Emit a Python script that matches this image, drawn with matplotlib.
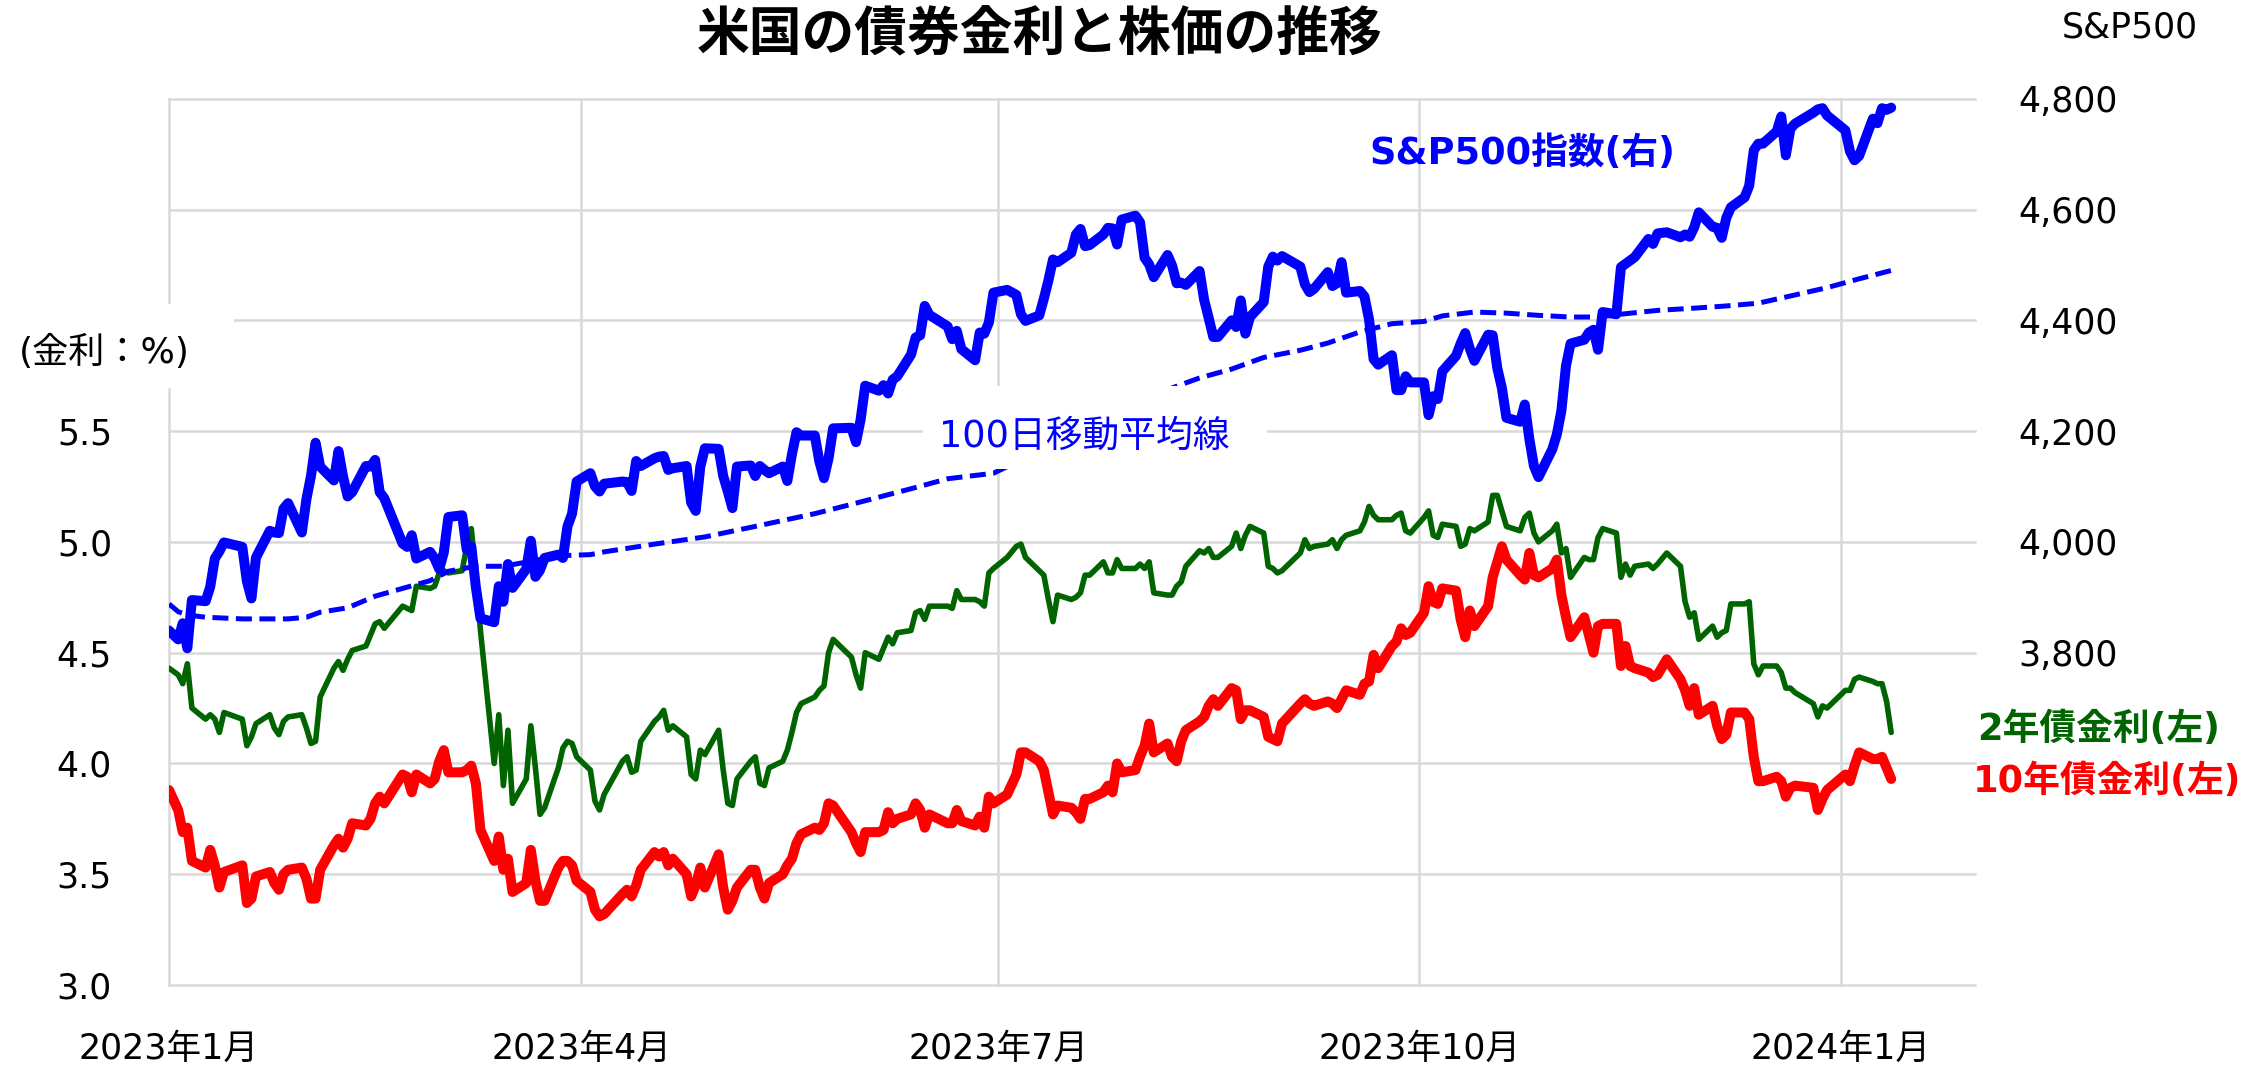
import matplotlib
matplotlib.use("Agg")
import matplotlib.pyplot as plt
import matplotlib.dates as mdates
from matplotlib.patches import Rectangle
import numpy as np
import pandas as pd

W, H, DPI = 2249, 1068, 100
plt.rcParams['font.family'] = ['DejaVu Sans', 'Noto Sans CJK JP']

# ---------------- data ----------------
dates = [
    "2023-01-01", "2023-01-03", "2023-01-04", "2023-01-05", "2023-01-06", "2023-01-09", "2023-01-10", "2023-01-11", "2023-01-12", "2023-01-13", "2023-01-17", "2023-01-18", "2023-01-19", "2023-01-20", "2023-01-23", "2023-01-24", "2023-01-25", "2023-01-26", "2023-01-27", "2023-01-30", "2023-01-31",
    "2023-02-01", "2023-02-02", "2023-02-03", "2023-02-06", "2023-02-07", "2023-02-08", "2023-02-09", "2023-02-10", "2023-02-13", "2023-02-14", "2023-02-15", "2023-02-16", "2023-02-17", "2023-02-21", "2023-02-22", "2023-02-23", "2023-02-24", "2023-02-27", "2023-02-28",
    "2023-03-01", "2023-03-02", "2023-03-03", "2023-03-06", "2023-03-07", "2023-03-08", "2023-03-09", "2023-03-10", "2023-03-13", "2023-03-14", "2023-03-15", "2023-03-16", "2023-03-17", "2023-03-20", "2023-03-21", "2023-03-22", "2023-03-23", "2023-03-24", "2023-03-27", "2023-03-28", "2023-03-29", "2023-03-30", "2023-03-31",
    "2023-04-03", "2023-04-04", "2023-04-05", "2023-04-06", "2023-04-10", "2023-04-11", "2023-04-12", "2023-04-13", "2023-04-14", "2023-04-17", "2023-04-18", "2023-04-19", "2023-04-20", "2023-04-21", "2023-04-24", "2023-04-25", "2023-04-26", "2023-04-27", "2023-04-28",
    "2023-05-01", "2023-05-02", "2023-05-03", "2023-05-04", "2023-05-05", "2023-05-08", "2023-05-09", "2023-05-10", "2023-05-11", "2023-05-12", "2023-05-15", "2023-05-16", "2023-05-17", "2023-05-18", "2023-05-19", "2023-05-22", "2023-05-23", "2023-05-24", "2023-05-25", "2023-05-26", "2023-05-30", "2023-05-31",
    "2023-06-01", "2023-06-02", "2023-06-05", "2023-06-06", "2023-06-07", "2023-06-08", "2023-06-09", "2023-06-12", "2023-06-13", "2023-06-14", "2023-06-15", "2023-06-16", "2023-06-20", "2023-06-21", "2023-06-22", "2023-06-23", "2023-06-26", "2023-06-27", "2023-06-28", "2023-06-29", "2023-06-30",
    "2023-07-03", "2023-07-05", "2023-07-06", "2023-07-07", "2023-07-10", "2023-07-11", "2023-07-12", "2023-07-13", "2023-07-14", "2023-07-17", "2023-07-18", "2023-07-19", "2023-07-20", "2023-07-21", "2023-07-24", "2023-07-25", "2023-07-26", "2023-07-27", "2023-07-28", "2023-07-31",
    "2023-08-01", "2023-08-02", "2023-08-03", "2023-08-04", "2023-08-07", "2023-08-08", "2023-08-09", "2023-08-10", "2023-08-11", "2023-08-14", "2023-08-15", "2023-08-16", "2023-08-17", "2023-08-18", "2023-08-21", "2023-08-22", "2023-08-23", "2023-08-24", "2023-08-25", "2023-08-28", "2023-08-29", "2023-08-30", "2023-08-31",
    "2023-09-01", "2023-09-05", "2023-09-06", "2023-09-07", "2023-09-08", "2023-09-11", "2023-09-12", "2023-09-13", "2023-09-14", "2023-09-15", "2023-09-18", "2023-09-19", "2023-09-20", "2023-09-21", "2023-09-22", "2023-09-25", "2023-09-26", "2023-09-27", "2023-09-28", "2023-09-29",
    "2023-10-02", "2023-10-03", "2023-10-04", "2023-10-05", "2023-10-06", "2023-10-09", "2023-10-10", "2023-10-11", "2023-10-12", "2023-10-13", "2023-10-16", "2023-10-17", "2023-10-18", "2023-10-19", "2023-10-20", "2023-10-23", "2023-10-24", "2023-10-25", "2023-10-26", "2023-10-27", "2023-10-30", "2023-10-31",
    "2023-11-01", "2023-11-02", "2023-11-03", "2023-11-06", "2023-11-07", "2023-11-08", "2023-11-09", "2023-11-10", "2023-11-13", "2023-11-14", "2023-11-15", "2023-11-16", "2023-11-17", "2023-11-20", "2023-11-21", "2023-11-22", "2023-11-24", "2023-11-27", "2023-11-28", "2023-11-29", "2023-11-30",
    "2023-12-01", "2023-12-04", "2023-12-05", "2023-12-06", "2023-12-07", "2023-12-08", "2023-12-11", "2023-12-12", "2023-12-13", "2023-12-14", "2023-12-15", "2023-12-18", "2023-12-19", "2023-12-20", "2023-12-21", "2023-12-22", "2023-12-26", "2023-12-27", "2023-12-28", "2023-12-29",
    "2024-01-02", "2024-01-03", "2024-01-04", "2024-01-05", "2024-01-08", "2024-01-09", "2024-01-10", "2024-01-11", "2024-01-12",
]

sp500 = [
    3840, 3824, 3853, 3808, 3895, 3893, 3919, 3970, 3983, 3999, 3991, 3929, 3898, 3972, 4020, 4017, 4016, 4060, 4070, 4017, 4077,
    4119, 4179, 4136, 4111, 4164, 4118, 4082, 4090, 4137, 4136, 4148, 4090, 4079, 3997, 3991, 4012, 3970, 3982, 3970,
    3951, 3981, 4045, 4048, 3986, 3992, 3918, 3862, 3855, 3920, 3892, 3960, 3917, 3951, 4002, 3937, 3949, 3971, 3977, 3971, 4028, 4051, 4109,
    4124, 4100, 4091, 4105, 4109, 4108, 4092, 4146, 4137, 4151, 4154, 4155, 4130, 4133, 4137, 4071, 4056, 4136, 4169,
    4168, 4119, 4091, 4061, 4136, 4138, 4119, 4137, 4130, 4124, 4136, 4110, 4158, 4198, 4192, 4192, 4145, 4115, 4151, 4205, 4206, 4180,
    4221, 4282, 4273, 4283, 4268, 4293, 4299, 4338, 4369, 4373, 4426, 4410, 4389, 4366, 4381, 4348, 4328, 4378, 4376, 4396, 4450,
    4455, 4446, 4411, 4399, 4409, 4439, 4472, 4510, 4505, 4522, 4555, 4565, 4534, 4536, 4555, 4567, 4566, 4537, 4582, 4589,
    4577, 4513, 4501, 4478, 4518, 4499, 4467, 4468, 4464, 4489, 4437, 4404, 4370, 4370, 4400, 4388, 4436, 4376, 4406, 4433, 4497, 4515, 4508,
    4516, 4497, 4465, 4451, 4457, 4487, 4462, 4467, 4505, 4450, 4453, 4443, 4402, 4330, 4320, 4337, 4274, 4274, 4299, 4288,
    4288, 4229, 4263, 4258, 4308, 4336, 4358, 4377, 4349, 4327, 4374, 4373, 4314, 4278, 4224, 4217, 4248, 4186, 4137, 4117, 4167, 4194,
    4237, 4318, 4358, 4365, 4378, 4383, 4347, 4415, 4411, 4496, 4502, 4508, 4514, 4547, 4538, 4557, 4559, 4550, 4555, 4551, 4568,
    4595, 4569, 4567, 4549, 4585, 4604, 4622, 4643, 4707, 4719, 4719, 4741, 4768, 4698, 4746, 4755, 4775, 4781, 4783, 4770,
    4743, 4705, 4689, 4697, 4764, 4756, 4783, 4780, 4784,
]

yield_10y = [
    3.88, 3.79, 3.69, 3.71, 3.56, 3.53, 3.61, 3.54, 3.44, 3.51, 3.54, 3.37, 3.39, 3.49, 3.51, 3.46, 3.43, 3.50, 3.52, 3.53, 3.48,
    3.39, 3.39, 3.52, 3.63, 3.66, 3.62, 3.66, 3.73, 3.72, 3.75, 3.82, 3.85, 3.82, 3.95, 3.94, 3.87, 3.95, 3.91, 3.93,
    4.01, 4.06, 3.96, 3.96, 3.97, 3.99, 3.91, 3.70, 3.56, 3.67, 3.52, 3.57, 3.42, 3.46, 3.61, 3.47, 3.38, 3.38, 3.53, 3.56, 3.56, 3.54, 3.47,
    3.42, 3.34, 3.31, 3.32, 3.41, 3.43, 3.40, 3.45, 3.52, 3.60, 3.58, 3.60, 3.54, 3.57, 3.50, 3.40, 3.45, 3.53, 3.44,
    3.59, 3.44, 3.34, 3.38, 3.44, 3.52, 3.52, 3.44, 3.39, 3.46, 3.50, 3.54, 3.57, 3.64, 3.68, 3.71, 3.70, 3.73, 3.82, 3.81, 3.69, 3.64,
    3.60, 3.69, 3.69, 3.70, 3.78, 3.73, 3.75, 3.77, 3.82, 3.79, 3.71, 3.77, 3.73, 3.73, 3.79, 3.74, 3.72, 3.76, 3.71, 3.85, 3.82,
    3.86, 3.95, 4.05, 4.05, 4.01, 3.97, 3.87, 3.77, 3.81, 3.80, 3.78, 3.75, 3.84, 3.84, 3.87, 3.90, 3.87, 4.00, 3.96, 3.97,
    4.03, 4.08, 4.18, 4.05, 4.09, 4.03, 4.01, 4.10, 4.15, 4.19, 4.21, 4.26, 4.29, 4.26, 4.34, 4.33, 4.20, 4.24, 4.24, 4.21, 4.12, 4.11, 4.10,
    4.18, 4.27, 4.29, 4.27, 4.26, 4.28, 4.27, 4.25, 4.29, 4.33, 4.31, 4.36, 4.37, 4.49, 4.43, 4.53, 4.55, 4.61, 4.58, 4.59,
    4.68, 4.80, 4.73, 4.72, 4.79, 4.78, 4.65, 4.57, 4.69, 4.62, 4.71, 4.84, 4.91, 4.98, 4.92, 4.85, 4.83, 4.95, 4.85, 4.84, 4.88, 4.92,
    4.76, 4.66, 4.57, 4.66, 4.58, 4.50, 4.62, 4.63, 4.63, 4.44, 4.53, 4.44, 4.43, 4.41, 4.39, 4.40, 4.47, 4.38, 4.33, 4.26, 4.34,
    4.22, 4.26, 4.17, 4.11, 4.13, 4.23, 4.23, 4.20, 4.03, 3.92, 3.92, 3.94, 3.92, 3.85, 3.89, 3.90, 3.89, 3.79, 3.84, 3.88,
    3.95, 3.92, 3.99, 4.05, 4.02, 4.02, 4.03, 3.98, 3.93,
]

yield_2y = [
    4.43, 4.40, 4.36, 4.45, 4.25, 4.20, 4.22, 4.20, 4.14, 4.23, 4.20, 4.08, 4.12, 4.18, 4.22, 4.16, 4.13, 4.19, 4.21, 4.22, 4.16,
    4.09, 4.10, 4.30, 4.43, 4.46, 4.42, 4.47, 4.51, 4.53, 4.58, 4.63, 4.64, 4.61, 4.71, 4.70, 4.69, 4.80, 4.79, 4.80,
    4.86, 4.87, 4.86, 4.87, 4.98, 5.06, 4.85, 4.60, 4.00, 4.22, 3.90, 4.15, 3.82, 3.93, 4.17, 3.98, 3.77, 3.80, 3.98, 4.07, 4.10, 4.09, 4.03,
    3.97, 3.83, 3.79, 3.86, 4.01, 4.03, 3.96, 3.97, 4.10, 4.19, 4.21, 4.24, 4.15, 4.17, 4.12, 3.95, 3.93, 4.06, 4.04,
    4.15, 3.97, 3.82, 3.81, 3.93, 4.01, 4.03, 3.91, 3.90, 3.98, 4.01, 4.06, 4.14, 4.23, 4.27, 4.30, 4.33, 4.35, 4.50, 4.56, 4.48, 4.40,
    4.34, 4.50, 4.47, 4.52, 4.57, 4.54, 4.59, 4.60, 4.68, 4.69, 4.65, 4.71, 4.71, 4.70, 4.78, 4.74, 4.74, 4.73, 4.71, 4.86, 4.88,
    4.93, 4.98, 4.99, 4.93, 4.87, 4.85, 4.74, 4.64, 4.76, 4.74, 4.75, 4.77, 4.85, 4.85, 4.91, 4.86, 4.86, 4.92, 4.88, 4.88,
    4.90, 4.88, 4.91, 4.77, 4.76, 4.76, 4.80, 4.82, 4.89, 4.96, 4.95, 4.97, 4.93, 4.93, 4.98, 5.04, 4.97, 5.03, 5.07, 5.04, 4.89, 4.88, 4.86,
    4.87, 4.95, 5.01, 4.97, 4.98, 4.99, 5.01, 4.97, 5.01, 5.03, 5.05, 5.09, 5.16, 5.12, 5.10, 5.10, 5.12, 5.13, 5.05, 5.04,
    5.11, 5.14, 5.03, 5.02, 5.08, 5.07, 4.98, 4.99, 5.06, 5.05, 5.09, 5.21, 5.21, 5.14, 5.07, 5.05, 5.11, 5.13, 5.04, 5.00, 5.05, 5.08,
    4.95, 4.97, 4.84, 4.93, 4.92, 4.92, 5.02, 5.06, 5.04, 4.84, 4.90, 4.85, 4.89, 4.90, 4.88, 4.90, 4.95, 4.89, 4.73, 4.66, 4.68,
    4.56, 4.62, 4.57, 4.59, 4.60, 4.72, 4.72, 4.73, 4.45, 4.40, 4.44, 4.44, 4.41, 4.34, 4.34, 4.32, 4.27, 4.21, 4.26, 4.25,
    4.33, 4.33, 4.38, 4.39, 4.37, 4.36, 4.36, 4.28, 4.14,
]

ma_dates = [
    "2023-01-01", "2023-01-03", "2023-01-05", "2023-01-09", "2023-01-17", "2023-01-27", "2023-01-31",
    "2023-02-03", "2023-02-09", "2023-02-15", "2023-02-21", "2023-02-27",
    "2023-03-03", "2023-03-09", "2023-03-15", "2023-03-21", "2023-03-27",
    "2023-04-03", "2023-04-06", "2023-04-17", "2023-04-28",
    "2023-05-09", "2023-05-22", "2023-05-31", "2023-06-12", "2023-06-20", "2023-06-30",
    "2023-08-08", "2023-08-14", "2023-08-21", "2023-08-28",
    "2023-09-05", "2023-09-11", "2023-09-18", "2023-09-25",
    "2023-10-02", "2023-10-06", "2023-10-13", "2023-10-20", "2023-10-27",
    "2023-11-03", "2023-11-09", "2023-11-15", "2023-11-22", "2023-11-30",
    "2023-12-07", "2023-12-14", "2023-12-21", "2023-12-29",
    "2024-01-05", "2024-01-12",
]
ma100 = [
    3888, 3874, 3868, 3864, 3861, 3861, 3864,
    3873, 3881, 3902, 3916, 3930,
    3947, 3956, 3956, 3965, 3975,
    3977, 3982, 3996, 4009,
    4028, 4051, 4070, 4096, 4114, 4124,
    4278, 4296, 4312, 4333,
    4346, 4359, 4379, 4394,
    4398, 4408, 4415, 4413, 4409,
    4406, 4406, 4412, 4418, 4422,
    4426, 4431, 4444, 4459,
    4475, 4490,
]

xtick_dates = ["2023-01-01", "2023-04-01", "2023-07-01", "2023-10-01", "2024-01-01"]
xtick_labels = ["2023年1月", "2023年4月", "2023年7月", "2023年10月", "2024年1月"]
left_ticks = [3.0, 3.5, 4.0, 4.5, 5.0, 5.5, 6.0, 6.5, 7.0]
left_labels = ["3.0", "3.5", "4.0", "4.5", "5.0", "5.5", "", "", ""]
right_ticks = [3800, 4000, 4200, 4400, 4600, 4800]
right_labels = ["3,800", "4,000", "4,200", "4,400", "4,600", "4,800"]

title = "米国の債券金利と株価の推移"

# ---------------- figure ----------------
BLUE, RED, GREEN, GRID = "#0000FF", "#FF0000", "#006400", "#D9D9D9"

fig = plt.figure(figsize=(W / DPI, H / DPI), dpi=DPI)
fig.patch.set_facecolor("white")
ax = fig.add_axes([169 / W, 1 - 985 / H, (1975 - 169) / W, (985 - 98.8) / H])
ax2 = ax.twinx()

d = pd.to_datetime(dates)
md = pd.to_datetime(ma_dates)

ax.plot(d, yield_10y, color=RED, lw=7.2, solid_joinstyle="round",
        solid_capstyle="round", zorder=3)
ax.plot(d, yield_2y, color=GREEN, lw=4.0, solid_joinstyle="round",
        solid_capstyle="round", zorder=3)
ax2.plot(md, ma100, color=BLUE, lw=3.6, linestyle=(0, (3.2, 1.5)),
         dash_capstyle="butt", zorder=2)
ax2.plot(d, sp500, color=BLUE, lw=7.2, solid_joinstyle="round",
         solid_capstyle="round", zorder=3)

x0 = mdates.date2num(pd.Timestamp("2023-01-01"))
ax.set_xlim(x0, x0 + 394.3)
ax.set_ylim(3.0, 7.0)
ax2.set_ylim(3200, 4800)

ax.set_xticks(pd.to_datetime(xtick_dates))
ax.set_xticklabels(xtick_labels)
ax.set_yticks(left_ticks)
ax.set_yticklabels(left_labels)
ax2.set_yticks(right_ticks)
ax2.set_yticklabels(right_labels)

ax.grid(True, color=GRID, lw=1.8)
ax.set_axisbelow(True)
for gl in ax.get_xgridlines() + ax.get_ygridlines():
    gl.set_clip_on(False)

for a in (ax, ax2):
    for s in a.spines.values():
        s.set_visible(False)
ax.tick_params(axis="x", length=0, labelsize=25, pad=33.5, colors="black")
ax.tick_params(axis="y", length=0, labelsize=25, pad=41, colors="black")
ax2.tick_params(axis="y", length=0, labelsize=25, pad=31, colors="black")

# white boxes behind in-chart labels (they mask gridlines / MA line)
fig.add_artist(Rectangle((0, 1 - 388 / H), 234 / W, 84 / H, transform=fig.transFigure,
                         facecolor="white", edgecolor="none", zorder=5))
fig.add_artist(Rectangle((923 / W, 1 - 469 / H), 344 / W, 83 / H, transform=fig.transFigure,
                         facecolor="white", edgecolor="none", zorder=5))

fig.text(1040 / W, 1 - 50 / H, title, ha="center", va="baseline", fontsize=38,
         fontweight="bold", family=["Noto Sans CJK JP"], color="black", zorder=6)
fig.text(2062 / W, 1 - 27 / H, "S&P500", ha="left", va="center", fontsize=25,
         color="black", zorder=6)
fig.text(104 / W, 1 - 352 / H, "(金利：%)", ha="center", va="center", fontsize=26,
         color="black", zorder=6)
fig.text(1522 / W, 1 - 153 / H, "S&P500指数(右)", ha="center", va="center",
         fontsize=26.5, fontweight="bold", color=BLUE, zorder=6)
fig.text(1084 / W, 1 - 436 / H, "100日移動平均線", ha="center", va="center",
         fontsize=26.5, color=BLUE, zorder=6)
fig.text(1977 / W, 1 - 729 / H, "2年債金利(左)", ha="left", va="center",
         fontsize=26.5, fontweight="bold", color=GREEN, zorder=6)
fig.text(1973 / W, 1 - 782 / H, "10年債金利(左)", ha="left", va="center",
         fontsize=26.5, fontweight="bold", color=RED, zorder=6)

fig.savefig("out.png", dpi=DPI, facecolor="white")
